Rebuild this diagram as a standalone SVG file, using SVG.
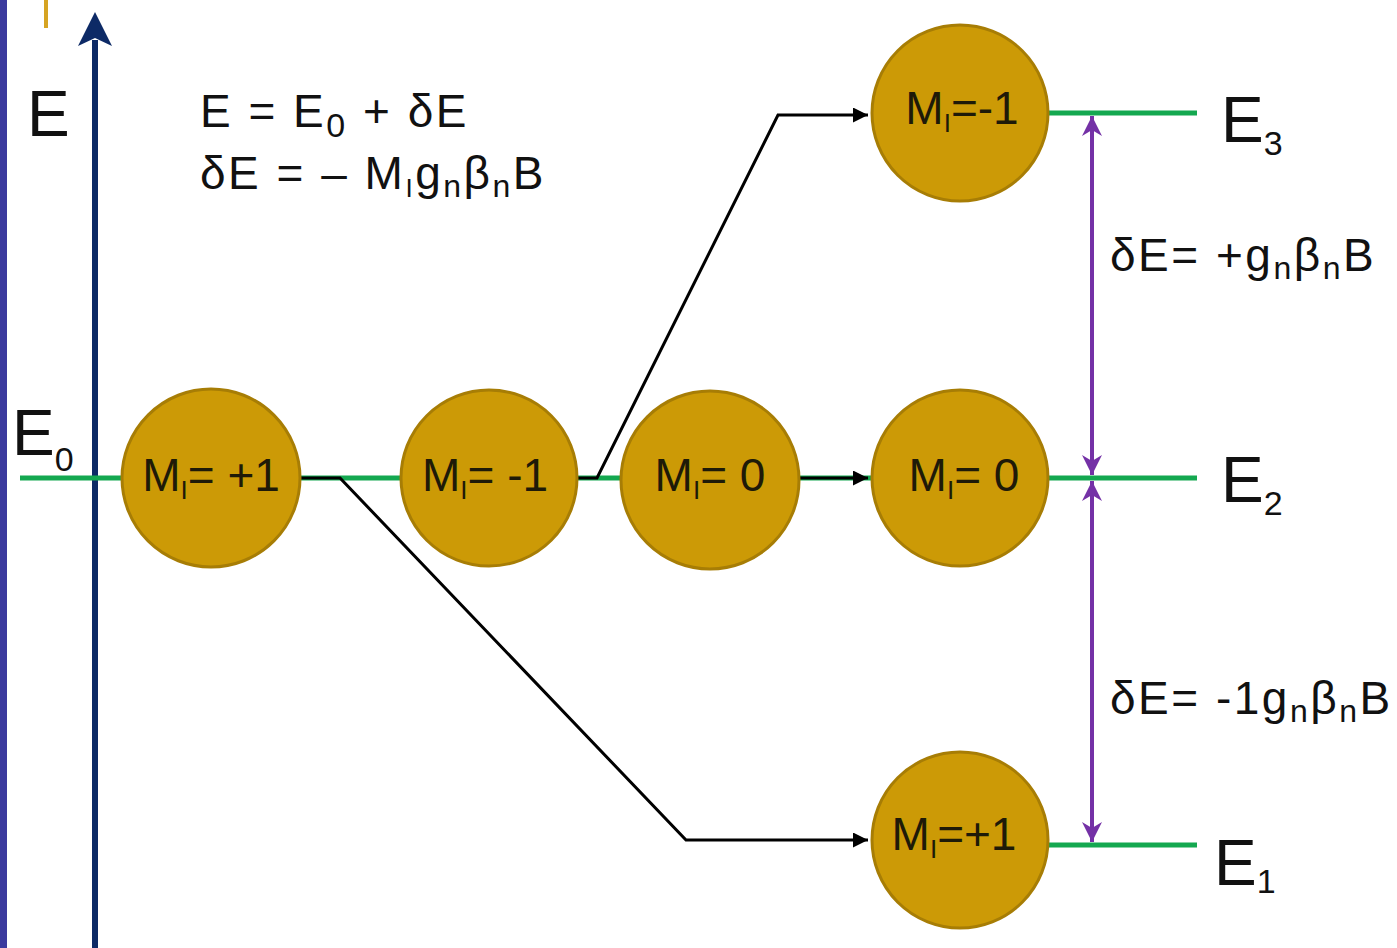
<svg xmlns="http://www.w3.org/2000/svg" width="1397" height="948" viewBox="0 0 1397 948">
  <defs>
    <style>
      text { font-family: "Liberation Sans", Arial, sans-serif; fill: #111; }
      .big { font-size: 64px; }
      .mid { font-size: 46px; letter-spacing: 2.5px; }
      .sub { font-size: 34px; }
      .nsub { font-size: 32px; }
      .ssub { font-size: 26px; }
      .level { stroke: #14a850; stroke-width: 5; fill: none; }
      .node circle { fill: #cc9a06; stroke: #a77d05; stroke-width: 3; }
      .node text { font-size: 46px; text-anchor: middle; fill: #1e1a08; }
      .link { stroke: #000; stroke-width: 3; fill: none; marker-end: url(#blk); }
      .gap { stroke: #7431a6; stroke-width: 4; fill: none; marker-start: url(#pur); marker-end: url(#pur); }
    </style>
    <marker id="blk" viewBox="0 0 10 10" refX="10" refY="5" markerWidth="5" markerHeight="5" markerUnits="strokeWidth" orient="auto">
      <path d="M0,0 L10,5 L0,10 z" fill="#000"/>
    </marker>
    <marker id="pur" viewBox="0 0 10 10" refX="10" refY="5" markerWidth="5" markerHeight="5.5" markerUnits="strokeWidth" orient="auto-start-reverse">
      <path d="M0,0 L10,5 L0,10 L3,5 z" fill="#7431a6"/>
    </marker>
  </defs>

  <rect width="1397" height="948" fill="#ffffff"/>
  <!-- slide edge decorations -->
  <rect x="0" y="0" width="7" height="948" fill="#3b3a9e"/>
  <rect x="44" y="0" width="4" height="28" fill="#d6a423"/>

  <!-- energy axis -->
  <g id="axis">
    <line x1="95" y1="948" x2="95" y2="40" stroke="#0d2a66" stroke-width="6"/>
    <path d="M95,12 L112,46 L95,38 L78,46 z" fill="#0d2a66"/>
    <text class="big" x="27" y="136">E</text>
  </g>

  <!-- energy levels -->
  <g id="levels">
    <line class="level" x1="20" y1="478" x2="1197" y2="478"/>
    <line class="level" x1="1040" y1="113" x2="1197" y2="113"/>
    <line class="level" x1="1040" y1="845" x2="1197" y2="845"/>
  </g>

  <!-- formulas -->
  <g id="formulas">
    <text class="mid" x="200" y="127">E = E<tspan class="sub" dy="10">0</tspan><tspan dy="-10"> + δE</tspan></text>
    <text class="mid" x="200" y="189">δE = – M<tspan class="ssub" dy="8">I</tspan><tspan dy="-8">g</tspan><tspan class="nsub" dy="8">n</tspan><tspan dy="-8">β</tspan><tspan class="nsub" dy="8">n</tspan><tspan dy="-8">B</tspan></text>
  </g>

  <!-- connectors -->
  <g id="connectors">
    <polyline class="link" points="301,478 340,478 686,840 868,840"/>
    <polyline class="link" points="578,478 597,478 778,115 868,115"/>
    <line class="link" x1="800" y1="478" x2="868" y2="478"/>
    <line class="gap" x1="1092" y1="116" x2="1092" y2="475"/>
    <line class="gap" x1="1092" y1="481" x2="1092" y2="842"/>
  </g>

  <!-- spin states -->
  <g id="n1" class="node">
    <circle cx="211" cy="478" r="89"/>
    <text x="211" y="491">M<tspan class="ssub" dy="8">I</tspan><tspan dy="-8">= +1</tspan></text>
  </g>
  <g id="n2" class="node">
    <circle cx="489" cy="478" r="88"/>
    <text x="485" y="491">M<tspan class="ssub" dy="8">I</tspan><tspan dy="-8">= -1</tspan></text>
  </g>
  <g id="n3" class="node">
    <circle cx="710" cy="480" r="89"/>
    <text x="710" y="491">M<tspan class="ssub" dy="8">I</tspan><tspan dy="-8">= 0</tspan></text>
  </g>
  <g id="n4" class="node">
    <circle cx="960" cy="478" r="88"/>
    <text x="964" y="491">M<tspan class="ssub" dy="8">I</tspan><tspan dy="-8">= 0</tspan></text>
  </g>
  <g id="n5" class="node">
    <circle cx="960" cy="113" r="88"/>
    <text x="962" y="124">M<tspan class="ssub" dy="8">I</tspan><tspan dy="-8">=-1</tspan></text>
  </g>
  <g id="n6" class="node">
    <circle cx="960" cy="840" r="88"/>
    <text x="954" y="850">M<tspan class="ssub" dy="8">I</tspan><tspan dy="-8">=+1</tspan></text>
  </g>

  <!-- level labels -->
  <g id="labels">
    <text class="big" x="12" y="455">E<tspan class="sub" dy="16">0</tspan></text>
    <text class="big" x="1221" y="142">E<tspan class="sub" dy="13">3</tspan></text>
    <text class="big" x="1221" y="502">E<tspan class="sub" dy="13">2</tspan></text>
    <text class="big" x="1214" y="885">E<tspan class="sub" dy="8">1</tspan></text>
    <text class="mid" x="1110" y="271">δE= +g<tspan class="nsub" dy="8">n</tspan><tspan dy="-8">β</tspan><tspan class="nsub" dy="8">n</tspan><tspan dy="-8">B</tspan></text>
    <text class="mid" x="1110" y="714">δE= -1g<tspan class="nsub" dy="8">n</tspan><tspan dy="-8">β</tspan><tspan class="nsub" dy="8">n</tspan><tspan dy="-8">B</tspan></text>
  </g>
</svg>
